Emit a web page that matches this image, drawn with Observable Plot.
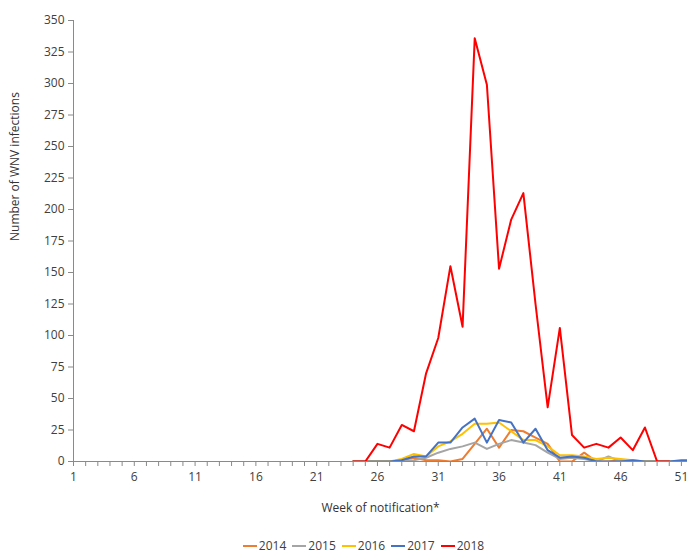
<!DOCTYPE html>
<html>
<head>
<meta charset="utf-8">
<script src="https://cdn.jsdelivr.net/npm/d3@7"></script>
<script src="https://cdn.jsdelivr.net/npm/@observablehq/plot@0.6"></script>
<style>
  body { margin: 0; background: #fff; font-family: "Open Sans", sans-serif; overflow: hidden; }
  #chart svg { display: block; }
  #legend { display: flex; justify-content: center; gap: 6px; padding-top: 13px; padding-left: 40px; font-size: 12px; line-height: 14px; height: 14px; color: #404040; }
  .item { display: flex; align-items: center; }
  .sw { display: inline-block; width: 14px; height: 2px; margin-right: 2px; }
</style>
</head>
<body>
<div id="chart"></div>
<div id="legend"></div>
<script>
const years = ["2014", "2015", "2016", "2017", "2018"];
const colors = ["#ED7D31", "#A5A5A5", "#FFC000", "#4472C4", "#FF0000"];
const firstWeek = 24; // week of the first value in each series

// weeks 24..52
const cases2014 = [0, 0, 0, 0, 1, 3, 1, 1, 0, 2, 14, 26, 11, 25, 24, 19, 14, 0, 0, 7, 0, 0, 1, 0, 0, 0, 0, 0, 0];
const cases2015 = [0, 0, 0, 0, 0, 1, 3, 7, 10, 12, 15, 10, 14, 17, 15, 13, 7, 2, 3, 2, 0, 4, 0, 0, 0, 0, 0, 0, 0];
const cases2016 = [0, 0, 0, 0, 2, 6, 4, 12, 16, 22, 30, 30, 31, 24, 17, 17, 12, 5, 5, 4, 2, 3, 2, 1, 0, 0, 0, 0, 0];
const cases2017 = [0, 0, 0, 0, 1, 4, 4, 15, 15, 27, 34, 15, 33, 31, 15, 26, 9, 3, 4, 3, 0, 0, 0, 1, 0, 0, 0, 1, 1];
const cases2018 = [0, 0, 14, 11, 29, 24, 70, 98, 155, 107, 336, 299, 153, 192, 213, 125, 43, 106, 21, 11, 14, 11, 19, 9, 27, 0, 0];

const xTickLabels = [1, 6, 11, 16, 21, 26, 31, 36, 41, 46, 51];
const yTickLabels = [0, 25, 50, 75, 100, 125, 150, 175, 200, 225, 250, 275, 300, 325, 350];
const xTitle = "Week of notification*";
const yTitle = "Number of WNV infections";

const series = [cases2014, cases2015, cases2016, cases2017, cases2018];
const rows = [];
series.forEach((vals, s) => vals.forEach((v, i) => rows.push({ year: years[s], week: firstWeek + i, value: v })));
const allWeeks = d3.range(1, 53);

const chart = Plot.plot({
  width: 687,
  height: 526,
  marginLeft: 73,
  marginRight: 0,
  marginTop: 20,
  marginBottom: 65,
  style: { fontFamily: "Open Sans, sans-serif", fontSize: "12px", color: "#404040", background: "#fff" },
  x: { domain: [1, 51.5] },
  y: { domain: [0, 350] },
  color: { domain: years, range: colors },
  marks: [
    Plot.axisX({ ticks: allWeeks, tickSize: 5, text: null, stroke: "#8a8a8a", label: null }),
    Plot.axisX({ ticks: xTickLabels, tickSize: 0, tickPadding: 11, label: null, fill: "#404040" }),
    Plot.axisY({ ticks: yTickLabels, tickSize: 5, tickPadding: 4, stroke: "#8a8a8a", fill: "#404040", label: null }),
    Plot.ruleY([0], { stroke: "#8a8a8a" }),
    Plot.ruleX([1], { stroke: "#8a8a8a" }),
    Plot.line(rows, { x: "week", y: "value", z: "year", stroke: "year", strokeWidth: 2, clip: "frame" }),
    Plot.text([xTitle], { frameAnchor: "bottom", dy: 50, text: d => d, fill: "#333", fontSize: 12 }),
    Plot.text([yTitle], { frameAnchor: "left", dx: -58, rotate: -90, text: d => d, fill: "#333", fontSize: 12 })
  ]
});
document.getElementById("chart").appendChild(chart);

const legend = document.getElementById("legend");
years.forEach((y, i) => {
  const item = document.createElement("span");
  item.className = "item";
  item.innerHTML = `<span class="sw" style="background:${colors[i]}"></span>${y}`;
  legend.appendChild(item);
});
</script>
</body>
</html>
